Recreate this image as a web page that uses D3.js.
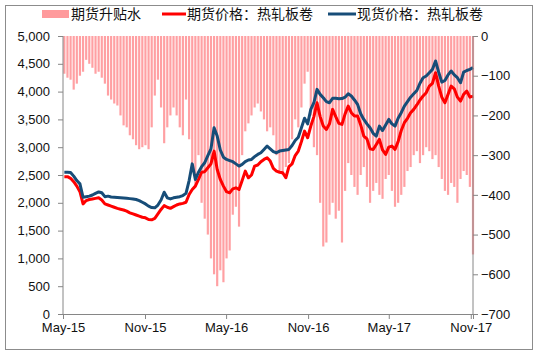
<!DOCTYPE html>
<html>
<head>
<meta charset="utf-8">
<script src="https://cdn.jsdelivr.net/npm/d3@7"></script>
<style>
  body { margin: 0; background: #fff; }
  svg text { font-family: "Liberation Sans", Arial, sans-serif; fill: #111; }
  .legend text { font-family: "Noto Sans CJK SC", sans-serif; font-size: 14px; }
</style>
</head>
<body>
<div id="chart"></div>
<script>
// weekly observations, Mondays from 2015-05-04 to 2017-11-06
var weeks = d3.timeMonday.range(new Date(2015, 4, 4), new Date(2017, 10, 7));

// 现货价格：热轧板卷 (spot)
var spot = [
  2550,2550,2545,2480,2400,2340,2100,2110,2120,2140,
  2170,2195,2180,2110,2120,2105,2100,2095,2090,2085,
  2080,2075,2070,2060,2040,2010,1980,1940,1915,1910,
  1960,2050,2190,2090,2070,2090,2100,2110,2130,2170,
  2400,2700,2420,2550,2650,2720,2850,2970,3350,3200,
  2950,2820,2780,2760,2740,2700,2660,2690,2740,2770,
  2780,2830,2870,2900,2960,3020,2970,2920,2900,2930,
  2940,2950,2960,3030,3120,3180,3350,3520,3420,3680,
  3800,4040,3950,3890,3820,3800,3880,3880,3870,3875,
  3900,3960,3920,3850,3770,3600,3500,3420,3350,3250,
  3200,3380,3300,3400,3500,3420,3380,3520,3620,3740,
  3820,3900,3960,4020,4150,4250,4280,4340,4400,4550,
  4350,4170,4200,4300,4370,4300,4250,4160,4350,4380,
  4400,4430
];

// 期货价格：热轧板卷 (futures)
var futures = [
  2470,2470,2440,2380,2300,2200,1980,2040,2060,2070,
  2080,2090,2050,1980,1960,1940,1920,1900,1885,1870,
  1850,1820,1800,1780,1760,1740,1730,1700,1695,1720,
  1800,1880,1950,1920,1900,1930,1960,1980,1990,2010,
  2150,2240,2300,2420,2550,2560,2630,2700,2930,2600,
  2420,2300,2200,2180,2250,2270,2240,2400,2570,2450,
  2500,2660,2680,2740,2780,2810,2750,2620,2570,2550,
  2540,2450,2650,2700,2850,2930,3100,3290,3170,3380,
  3550,3800,3550,3380,3320,3420,3680,3550,3430,3410,
  3600,3740,3620,3560,3560,3400,3200,3150,2970,2960,
  3050,3140,2950,2870,3000,3020,2960,3100,3300,3440,
  3520,3620,3680,3760,3850,3920,3980,4100,4150,4340,
  4100,3900,3800,3950,4100,4050,3900,3830,3950,4010,
  3900,3920
];

// 期货升贴水 (basis, right axis)
var basis = [
  -95,-105,-110,-135,-120,-100,-90,-60,-70,-80,
  -95,-90,-105,-120,-150,-160,-170,-175,-200,-225,
  -230,-250,-260,-275,-285,-280,-275,-285,-230,-150,
  -110,-180,-270,-230,-200,-180,-200,-230,-250,-160,
  -260,-320,-380,-300,-420,-460,-500,-560,-600,-630,
  -590,-620,-560,-540,-450,-430,-480,-300,-240,-220,
  -200,-180,-170,-190,-210,-240,-230,-250,-300,-340,
  -350,-330,-320,-260,-210,-230,-180,-120,-90,-200,
  -280,-300,-420,-530,-520,-450,-420,-460,-440,-520,
  -390,-320,-350,-380,-400,-350,-330,-380,-420,-390,
  -370,-400,-410,-360,-350,-390,-430,-420,-400,-380,
  -340,-330,-300,-290,-320,-300,-280,-290,-310,-300,
  -330,-360,-390,-400,-370,-380,-420,-360,-340,-350,
  -380,-550
];

var leftTicks = [0, 500, 1000, 1500, 2000, 2500, 3000, 3500, 4000, 4500, 5000];
var rightTicks = [0, -100, -200, -300, -400, -500, -600, -700];
var monthTicks = [new Date(2015,4,1), new Date(2015,10,1), new Date(2016,4,1),
                  new Date(2016,10,1), new Date(2017,4,1), new Date(2017,10,1)];

var legendNames = ["期货升贴水", "期货价格：热轧板卷", "现货价格：热轧板卷"];

var W = 543, H = 354;
var pL = 63, pR = 473, pT = 36, pB = 314;

var svg = d3.select("#chart").append("svg")
    .attr("width", W).attr("height", H);

// outer frame
svg.append("rect")
    .attr("x", 5.5).attr("y", 5.5)
    .attr("width", 527).attr("height", 344)
    .attr("fill", "#fff").attr("stroke", "#8c8c8c").attr("stroke-width", 1);

var x = d3.scaleTime()
    .domain([new Date(2015,4,1), new Date(2017,10,6)])
    .range([pL, pR]);
var y = d3.scaleLinear().domain([0, 5000]).range([pB, pT]);
var y2 = d3.scaleLinear().domain([-700, 0]).range([pB, pT]);

// bars hang down from the 0 line at the top
var step = x(weeks[1]) - x(weeks[0]);
svg.append("g").selectAll("rect")
    .data(basis)
    .enter().append("rect")
    .attr("x", function(d, i) { return x(weeks[i]) - step * 0.35; })
    .attr("width", step * 0.7)
    .attr("y", y2(0))
    .attr("height", function(d) { return y2(d) - y2(0); })
    .attr("fill", "#ff7c80")
    .attr("opacity", 0.72);

var line = function(vals) {
  return d3.line()
      .x(function(d, i) { return x(weeks[i]); })
      .y(function(d) { return y(d); })(vals);
};

svg.append("path")
    .attr("d", line(futures))
    .attr("fill", "none")
    .attr("stroke", "#ff0000")
    .attr("stroke-width", 3)
    .attr("stroke-linejoin", "round");

svg.append("path")
    .attr("d", line(spot))
    .attr("fill", "none")
    .attr("stroke", "#174d78")
    .attr("stroke-width", 3)
    .attr("stroke-linejoin", "round");

// axes
var fmt = d3.format(",");
var gL = svg.append("g")
    .attr("transform", "translate(" + pL + ",0)")
    .call(d3.axisLeft(y).tickValues(leftTicks).tickFormat(fmt).tickSize(5).tickPadding(8));

var gR = svg.append("g")
    .attr("transform", "translate(" + pR + ",0)")
    .call(d3.axisRight(y2).tickValues(rightTicks).tickFormat(d3.format("d")).tickSize(5).tickPadding(3));

var gB = svg.append("g")
    .attr("transform", "translate(0," + pB + ")")
    .call(d3.axisBottom(x).tickValues(monthTicks).tickFormat(d3.timeFormat("%b-%y")).tickSize(5).tickPadding(4));

[gL, gR, gB].forEach(function(g) {
  g.select(".domain").attr("stroke", "#868686");
  g.selectAll(".tick line").attr("stroke", "#868686");
  g.selectAll(".tick text")
      .style("font-family", "'Liberation Sans', Arial, sans-serif")
      .style("font-size", "13px")
      .attr("fill", "#111");
});
gR.select(".domain").attr("d", "M0," + pT + "V" + pB);
gL.select(".domain").attr("d", "M0," + pT + "V" + pB);

// legend
var legend = svg.append("g").attr("class", "legend");
legend.append("rect")
    .attr("x", 42).attr("y", 10).attr("width", 27).attr("height", 8)
    .attr("fill", "#ff9a9c");
legend.append("text").attr("x", 71).attr("y", 19).text(legendNames[0]);

legend.append("line")
    .attr("x1", 162).attr("x2", 186).attr("y1", 14).attr("y2", 14)
    .attr("stroke", "#ff0000").attr("stroke-width", 3);
legend.append("text").attr("x", 187).attr("y", 19).text(legendNames[1]);

legend.append("line")
    .attr("x1", 328).attr("x2", 356).attr("y1", 14).attr("y2", 14)
    .attr("stroke", "#174d78").attr("stroke-width", 3);
legend.append("text").attr("x", 357).attr("y", 19).text(legendNames[2]);
</script>
</body>
</html>
